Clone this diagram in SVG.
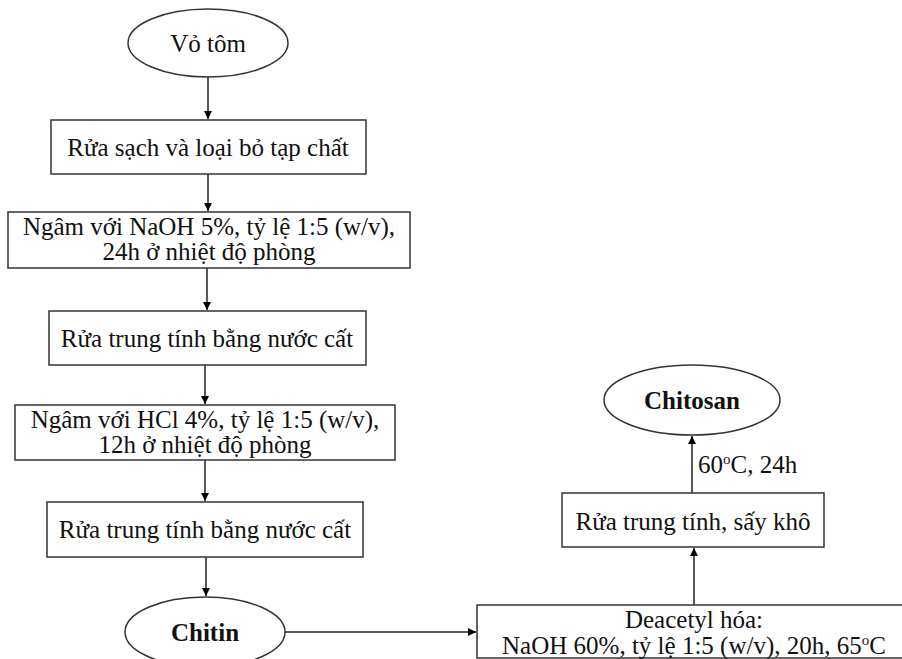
<svg xmlns="http://www.w3.org/2000/svg" width="902" height="659" viewBox="0 0 902 659">
<defs>
<marker id="arr" viewBox="0 0 10 10" refX="10" refY="5" markerWidth="8" markerHeight="8" markerUnits="userSpaceOnUse" orient="auto">
<path d="M0,0 L10,5 L0,10 z" fill="#000"/>
</marker>
<style>
.shape{fill:#fff;stroke:#333;stroke-width:1.5}
.t{font-family:"Liberation Serif","Times New Roman",serif;font-size:25px;fill:#111;text-anchor:middle}
.b{font-weight:bold}
.lbl{font-family:"Liberation Serif","Times New Roman",serif;font-size:25px;fill:#111}
.c{stroke:#222;stroke-width:1.5;fill:none;marker-end:url(#arr)}
</style>
</defs>
<rect width="902" height="659" fill="#fff"/>
<g id="connectors">
<line class="c" x1="208" y1="77" x2="208" y2="119"/>
<line class="c" x1="208" y1="174" x2="208" y2="211"/>
<line class="c" x1="207" y1="268" x2="207" y2="310"/>
<line class="c" x1="205" y1="365" x2="205" y2="404"/>
<line class="c" x1="205" y1="460" x2="205" y2="501"/>
<line class="c" x1="206" y1="557" x2="206" y2="596"/>
<line class="c" x1="285" y1="632" x2="476" y2="632"/>
<line class="c" x1="694" y1="605" x2="694" y2="548"/>
<line class="c" x1="692" y1="493" x2="692" y2="436"/>
<text class="lbl" x="698" y="473">60<tspan font-size="15" dy="-9">o</tspan><tspan dy="9">C, 24h</tspan></text>
</g>
<g id="vo-tom">
<ellipse class="shape" cx="208" cy="43" rx="80" ry="34"/>
<text class="t" x="208" y="52">Vỏ tôm</text>
</g>
<g id="rua-sach">
<rect class="shape" x="51" y="120" width="315" height="54"/>
<text class="t" x="208" y="156">Rửa sạch và loại bỏ tạp chất</text>
</g>
<g id="ngam-naoh">
<rect class="shape" x="8" y="212" width="402" height="56"/>
<text class="t" x="209" y="235">Ngâm với NaOH 5%, tỷ lệ 1:5 (w/v),</text>
<text class="t" x="209" y="260">24h ở nhiệt độ phòng</text>
</g>
<g id="rua-trung-tinh-1">
<rect class="shape" x="49" y="311" width="317" height="54"/>
<text class="t" x="207" y="347">Rửa trung tính bằng nước cất</text>
</g>
<g id="ngam-hcl">
<rect class="shape" x="15" y="405" width="380" height="55"/>
<text class="t" x="205" y="428">Ngâm với HCl 4%, tỷ lệ 1:5 (w/v),</text>
<text class="t" x="205" y="453">12h ở nhiệt độ phòng</text>
</g>
<g id="rua-trung-tinh-2">
<rect class="shape" x="47" y="502" width="316" height="55"/>
<text class="t" x="205" y="538">Rửa trung tính bằng nước cất</text>
</g>
<g id="chitin">
<ellipse class="shape" cx="205" cy="632" rx="80" ry="35"/>
<text class="t b" x="205" y="641">Chitin</text>
</g>
<g id="deacetyl">
<rect class="shape" x="477" y="605" width="430" height="53"/>
<text class="t" x="694" y="628">Deacetyl hóa:</text>
<text class="t" x="694" y="654">NaOH 60%, tỷ lệ 1:5 (w/v), 20h, 65<tspan font-size="15" dy="-9">o</tspan><tspan dy="9">C</tspan></text>
</g>
<g id="rua-say">
<rect class="shape" x="562" y="493" width="262" height="54"/>
<text class="t" x="693" y="530">Rửa trung tính, sấy khô</text>
</g>
<g id="chitosan">
<ellipse class="shape" cx="692" cy="400" rx="88" ry="35"/>
<text class="t b" x="692" y="409">Chitosan</text>
</g>
</svg>
